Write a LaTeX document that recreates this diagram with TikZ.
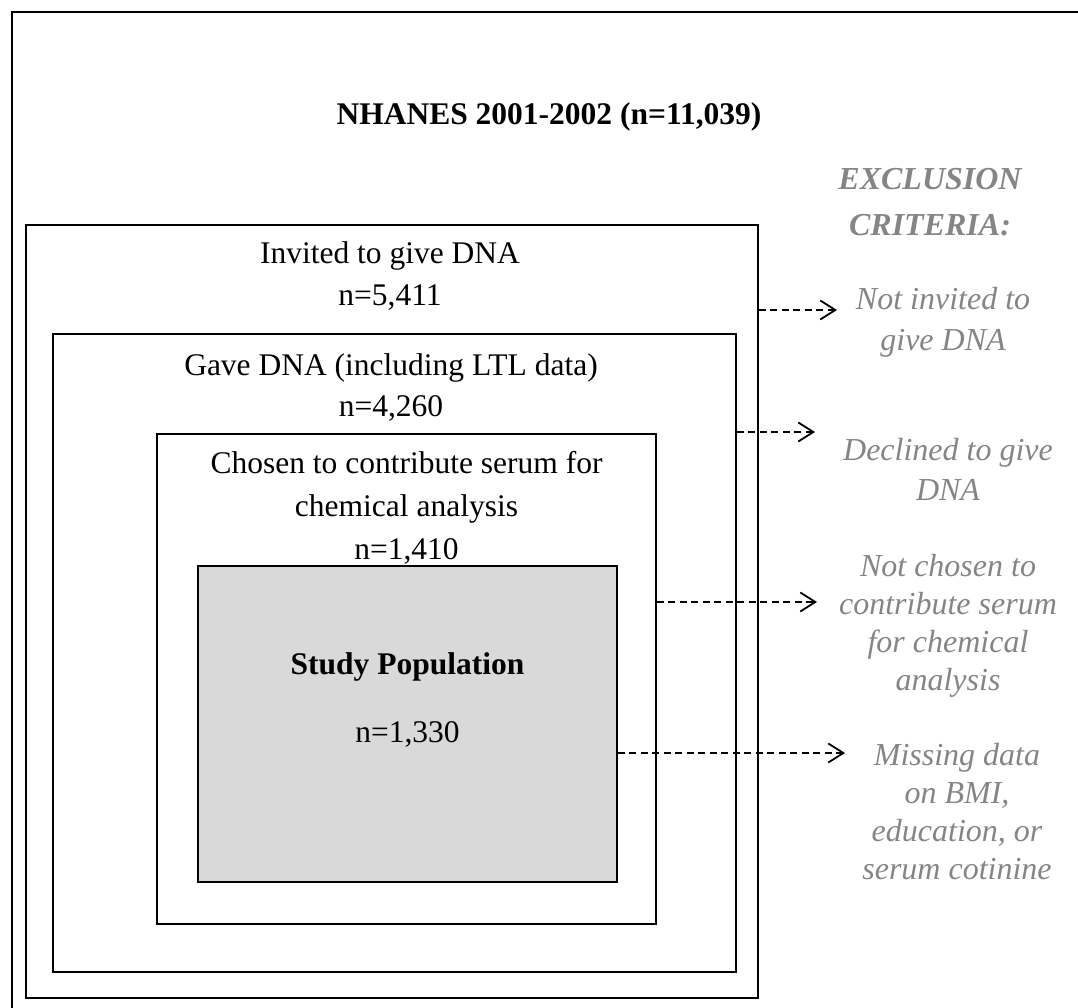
\documentclass[tikz,border=0pt]{standalone}
\usepackage{fontspec}
\setmainfont{Liberation Serif}
\usetikzlibrary{arrows.meta}
\definecolor{exgray}{HTML}{858585}
\definecolor{popfill}{HTML}{D9D9D9}
\begin{document}
\begin{tikzpicture}[x=1pt,y=-1pt,
  box/.style={draw=black,line width=1.8pt,rectangle,inner sep=0pt},
  boxtxt/.style={font=\fontsize{31.5}{37}\selectfont,anchor=base,inner sep=0pt},
  boldtxt/.style={font=\fontsize{31.5}{37}\selectfont\bfseries,anchor=base,inner sep=0pt},
  extxt/.style={font=\fontsize{32}{39}\selectfont\itshape,text=exgray,anchor=base,inner sep=0pt},
  exhead/.style={font=\fontsize{32}{39}\selectfont\bfseries\itshape,text=exgray,anchor=base,inner sep=0pt},
  exarrow/.style={line width=1.4pt,dash pattern=on 7pt off 4.5pt,-{Straight Barb[length=15pt,width=19pt,line width=1.8pt]}}]
\useasboundingbox (0,0) rectangle (1078,1008);
\draw[line width=2.2pt] (12,1008) -- (12,12) -- (1078,12);

\node[box,minimum width=732pt,minimum height=773pt] (b1) at (392,611.5) {};
\node[box,minimum width=683pt,minimum height=638pt] (b2) at (394.5,653) {};
\node[box,minimum width=499pt,minimum height=490pt] (b3) at (406.5,679) {};
\node[box,fill=popfill,minimum width=419pt,minimum height=316pt] (b4) at (407.5,724) {};

\node[boldtxt] (title) at (549,125) {NHANES 2001-2002 (n=11,039)};

\node[boxtxt] (t1a) at (390,264) {Invited to give DNA};
\node[boxtxt] (t1b) at (390,305) {n=5,411};
\node[boxtxt] (t2a) at (391,375) {Gave DNA (including LTL data)};
\node[boxtxt] (t2b) at (391,416) {n=4,260};
\node[boxtxt] (t3a) at (406.5,473) {Chosen to contribute serum for};
\node[boxtxt] (t3b) at (406.5,516) {chemical analysis};
\node[boxtxt] (t3c) at (406.5,559) {n=1,410};
\node[boldtxt] (t4a) at (407.5,674) {Study Population};
\node[boxtxt] (t4b) at (407.5,742) {n=1,330};

\node[exhead] (h1) at (930,190) {EXCLUSION};
\node[exhead] (h2) at (930,236) {CRITERIA:};

\node[extxt] (x1a) at (943,309) {Not invited to};
\node[extxt] (x1b) at (943,350) {give DNA};
\node[extxt] (x2a) at (948,460) {Declined to give};
\node[extxt] (x2b) at (948,500) {DNA};
\node[extxt] (x3a) at (948,576) {Not chosen to};
\node[extxt] (x3b) at (948,614) {contribute serum};
\node[extxt] (x3c) at (948,652) {for chemical};
\node[extxt] (x3d) at (948,690) {analysis};
\node[extxt] (x4a) at (957,765) {Missing data};
\node[extxt] (x4b) at (957,803) {on BMI,};
\node[extxt] (x4c) at (957,841) {education, or};
\node[extxt] (x4d) at (957,879) {serum cotinine};

\coordinate (e1) at (837,310);
\coordinate (e2) at (815,432);
\coordinate (e3) at (817,602);
\coordinate (e4) at (845,753);
\draw[exarrow] (b1.east |- e1) -- (e1);
\draw[exarrow] (b2.east |- e2) -- (e2);
\draw[exarrow] (b3.east |- e3) -- (e3);
\draw[exarrow] (b4.east |- e4) -- (e4);
\end{tikzpicture}
\end{document}
